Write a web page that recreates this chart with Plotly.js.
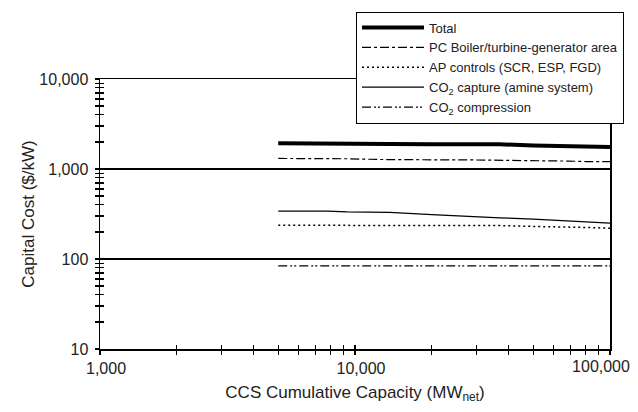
<!DOCTYPE html>
<html><head><meta charset="utf-8">
<script src="https://cdn.plot.ly/plotly-3.0.1.min.js"></script>
<style>body{margin:0;background:#fff}#g{width:638px;height:412px}</style>
</head><body><div id="g"></div>
<script>
// Data
const capacity      = [5000, 7800, 9300, 12500, 13700, 20000, 29000, 37000, 50000, 68000, 81000, 100000];
const total         = [1930, 1930, 1930, 1920, 1900, 1880, 1880, 1880, 1830, 1790, 1765, 1760];
const pcBoiler      = [1310, 1310, 1300, 1275, 1270, 1265, 1260, 1255, 1245, 1225, 1210, 1205];
const apControls    = [237, 237, 237, 237, 237, 237, 236, 235, 230, 228, 224, 220];
const co2Capture    = [341, 341, 334, 333, 330, 312, 295, 287, 278, 266, 258, 250];
const co2Compress   = [84, 84, 84, 84, 84, 84, 84, 84, 84, 84, 84, 84];
const seriesNames   = ['Total', 'PC Boiler/turbine-generator area', 'AP controls (SCR, ESP, FGD)',
                       'CO<sub>2</sub> capture (amine system)', 'CO<sub>2</sub> compression'];
const xTickVals  = [1000, 10000, 100000];
const xTickText  = ['1,000', '10,000', '100,000'];
const yTickVals  = [10, 100, 1000, 10000];
const yTickText  = ['10', '100', '1,000', '10,000'];

function minorLog(lo, hi) {
  const out = [];
  for (let d = lo; d < hi; d *= 10) for (let k = 1; k <= 9; k++) out.push(d * k);
  out.push(hi);
  return out;
}
const xAllTicks = minorLog(1000, 100000);
const yAllTicks = minorLog(10, 10000);
// the last x label is drawn on the overlay axis so it can be nudged left
const xMainText = xTickText.map((t, i) => i < xTickText.length - 1 ? t : '');
const xLastText = xAllTicks.map(v => v === xTickVals[xTickVals.length - 1] ? xTickText[xTickText.length - 1] : '');

const styles = [
  {width: 4, dash: 'solid'},
  {width: 1.2, dash: '9px,3px,3px,3px'},
  {width: 1.5, dash: '2px,3px'},
  {width: 1.2, dash: 'solid'},
  {width: 1.2, dash: '9px,3px,2px,2px,2px,3px'}
];
const ys = [total, pcBoiler, apControls, co2Capture, co2Compress];
const traces = ys.map((y, i) => ({
  x: capacity, y: y, type: 'scatter', mode: 'lines', name: seriesNames[i],
  line: {color: '#000', width: styles[i].width, dash: styles[i].dash}
}));
traces.push({x: [], y: [], xaxis: 'x2', yaxis: 'y2', showlegend: false, hoverinfo: 'skip'});

const font = {family: 'Liberation Sans, Arial, sans-serif', color: '#222'};
const layout = {
  width: 638, height: 412,
  margin: {l: 100, r: 28, t: 79, b: 63, autoexpand: false},
  paper_bgcolor: '#fff', plot_bgcolor: '#fff',
  font: Object.assign({size: 16}, font),
  showlegend: true,
  legend: {
    x: 0.502, y: 1.25, xanchor: 'left', yanchor: 'top',
    bordercolor: '#000', borderwidth: 1, bgcolor: '#fff', itemwidth: 62,
    font: Object.assign({size: 13}, font), tracegroupgap: 0
  },
  xaxis: {
    type: 'log', range: [3, 5], tickvals: xTickVals, ticktext: xMainText, automargin: false,
    ticks: 'outside', ticklen: 4, tickwidth: 1.2, tickcolor: '#000', ticklabelshift: 6,
    minor: {tickvals: xAllTicks, ticks: 'outside', ticklen: 4, tickwidth: 1.2, tickcolor: '#000', showgrid: false},
    showline: true, linecolor: '#000', linewidth: 1.5, mirror: true,
    showgrid: false, zeroline: false,
    tickfont: Object.assign({size: 16}, font),
    title: {text: 'CCS Cumulative Capacity (MW<sub>net</sub>)', font: Object.assign({size: 17}, font), standoff: 10}
  },
  yaxis: {
    type: 'log', range: [1, 4], tickvals: yTickVals, ticktext: yTickText, automargin: false,
    ticks: 'outside', ticklen: 4, tickwidth: 1.2, tickcolor: '#000', ticklabelstandoff: 3,
    minor: {tickvals: yAllTicks, ticks: 'outside', ticklen: 4, tickwidth: 1.2, tickcolor: '#000', showgrid: false},
    showline: true, linecolor: '#000', linewidth: 1.5, mirror: true,
    showgrid: true, gridcolor: '#000', gridwidth: 1.5, zeroline: false,
    tickfont: Object.assign({size: 16}, font),
    title: {text: 'Capital Cost ($/kW)', font: Object.assign({size: 17}, font), standoff: 0}
  },
  xaxis2: {
    type: 'log', range: [3, 5], overlaying: 'x', anchor: 'y2', side: 'bottom', automargin: false,
    tickvals: xAllTicks, ticktext: xLastText, ticks: 'inside', ticklen: 4, tickwidth: 1.2, tickcolor: '#000',
    showticklabels: true, ticklabelshift: -9, ticklabelstandoff: 6, tickfont: Object.assign({size: 16}, font),
    showgrid: false, zeroline: false, showline: false
  },
  yaxis2: {
    type: 'log', range: [1, 4], overlaying: 'y', anchor: 'x2', side: 'left', automargin: false,
    tickvals: yAllTicks, ticks: 'inside', ticklen: 4, tickwidth: 1.2, tickcolor: '#000',
    showticklabels: false, showgrid: false, zeroline: false, showline: false
  }
};
Plotly.newPlot('g', traces, layout, {displayModeBar: false, staticPlot: true});
</script></body></html>
